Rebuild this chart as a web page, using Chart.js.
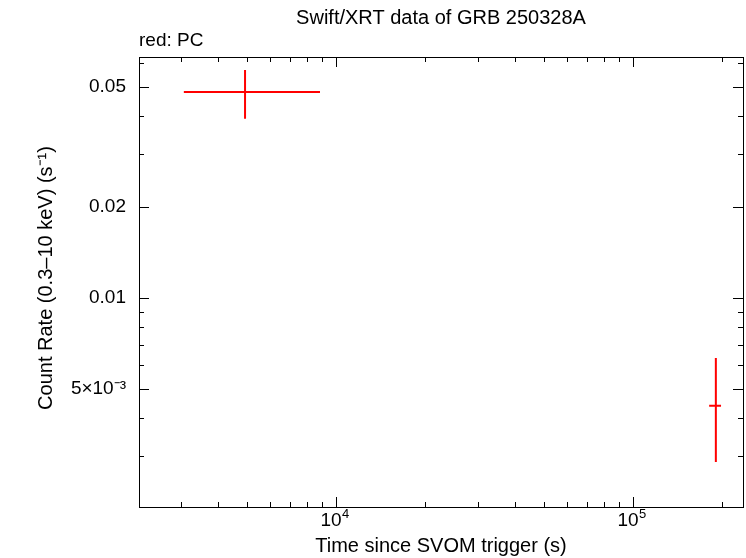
<!DOCTYPE html>
<html><head><meta charset="utf-8">
<script src="https://cdn.jsdelivr.net/npm/chart.js@4"></script>
<style>html,body{margin:0;padding:0;background:#fff}#w{width:746px;height:558px}</style>
</head><body><div id="w"><canvas id="c"></canvas></div>
<script>
const times=[4943,190000];
const timeLo=[3076,180400];
const timeHi=[8837,197800];
const rates=[0.0481,0.00439];
const rateLo=[0.0392,0.00286];
const rateHi=[0.0569,0.00633];
const xMajor=[1e4,1e5];
const yMajor=[0.05,0.02,0.01,0.005];
const yLabels=['0.05','0.02','0.01','5×10⁻³'];
const FONT='"Liberation Sans", Arial, sans-serif';

const draw={id:'draw',afterDatasetsDraw(ch){
 const c=ch.ctx,x=ch.scales.x,y=ch.scales.y,a=ch.chartArea;
 c.save();
 c.strokeStyle='#000';c.lineWidth=1;
 c.strokeRect(a.left+0.5,a.top+0.5,a.right-a.left,a.bottom-a.top);
 for(let e=3;e<=5;e++)for(let m=1;m<10;m++){const v=m*Math.pow(10,e);if(v<x.min||v>x.max)continue;
  const p=Math.round(x.getPixelForValue(v))+0.5,L=m===1?10:5;
  c.beginPath();c.moveTo(p,a.bottom);c.lineTo(p,a.bottom-L);c.moveTo(p,a.top);c.lineTo(p,a.top+L);c.stroke();}
 for(let e=-3;e<=-1;e++)for(let m=1;m<10;m++){const v=m*Math.pow(10,e);if(v<y.min||v>y.max)continue;
  const p=Math.round(y.getPixelForValue(v))+0.5,L=yMajor.some(t=>Math.abs(t-v)<1e-9)?10:5;
  c.beginPath();c.moveTo(a.left,p);c.lineTo(a.left+L,p);c.moveTo(a.right,p);c.lineTo(a.right-L,p);c.stroke();}
 c.fillStyle='#000';c.font='19px '+FONT;
 c.textAlign='right';c.textBaseline='middle';
 yMajor.forEach((v,i)=>c.fillText(yLabels[i],a.left-13,y.getPixelForValue(v)));
 c.textAlign='center';c.textBaseline='top';
 xMajor.forEach(v=>{const p=x.getPixelForValue(v);c.font='19px '+FONT;c.fillText('10',p-5,a.bottom+4);
  c.font='13px '+FONT;c.textAlign='left';c.fillText(String(Math.round(Math.log10(v))),p+6,a.bottom+1);c.textAlign='center';});
 c.font='20px '+FONT;
 c.fillText('Time since SVOM trigger (s)',(a.left+a.right)/2,a.bottom+29);
 c.fillText('Swift/XRT data of GRB 250328A',(a.left+a.right)/2,8);
 c.font='19px '+FONT;c.textAlign='left';c.fillText('red: PC',a.left,31);
 c.font='20px '+FONT;
 c.save();c.translate(46,(a.top+a.bottom)/2-4);c.rotate(-Math.PI/2);c.textAlign='center';c.textBaseline='middle';
 c.fillText('Count Rate (0.3\u201310 keV) (s\u207B\u00B9)',0,0);c.restore();
 c.strokeStyle='#f00';c.lineWidth=2;
 for(let i=0;i<times.length;i++){const px=x.getPixelForValue(times[i]),py=y.getPixelForValue(rates[i]);
  c.beginPath();c.moveTo(x.getPixelForValue(timeLo[i]),py);c.lineTo(x.getPixelForValue(timeHi[i]),py);
  c.moveTo(px,y.getPixelForValue(rateLo[i]));c.lineTo(px,y.getPixelForValue(rateHi[i]));c.stroke();}
 c.restore();}};

new Chart(document.getElementById('c'),{type:'scatter',
 data:{datasets:[{data:times.map((t,i)=>({x:t,y:rates[i]})),pointRadius:0}]},
 options:{responsive:true,maintainAspectRatio:false,animation:false,
  layout:{padding:{left:0,right:3,top:57,bottom:0}},
  plugins:{legend:{display:false},tooltip:{enabled:false}},
  scales:{
   x:{type:'logarithmic',min:2173,max:234500,grid:{display:false},border:{display:false},ticks:{display:false},afterFit(s){s.height=51;}},
   y:{type:'logarithmic',min:0.00203,max:0.0628,grid:{display:false},border:{display:false},ticks:{display:false},afterFit(s){s.width=139;}}}},
 plugins:[draw]});
</script></body></html>
